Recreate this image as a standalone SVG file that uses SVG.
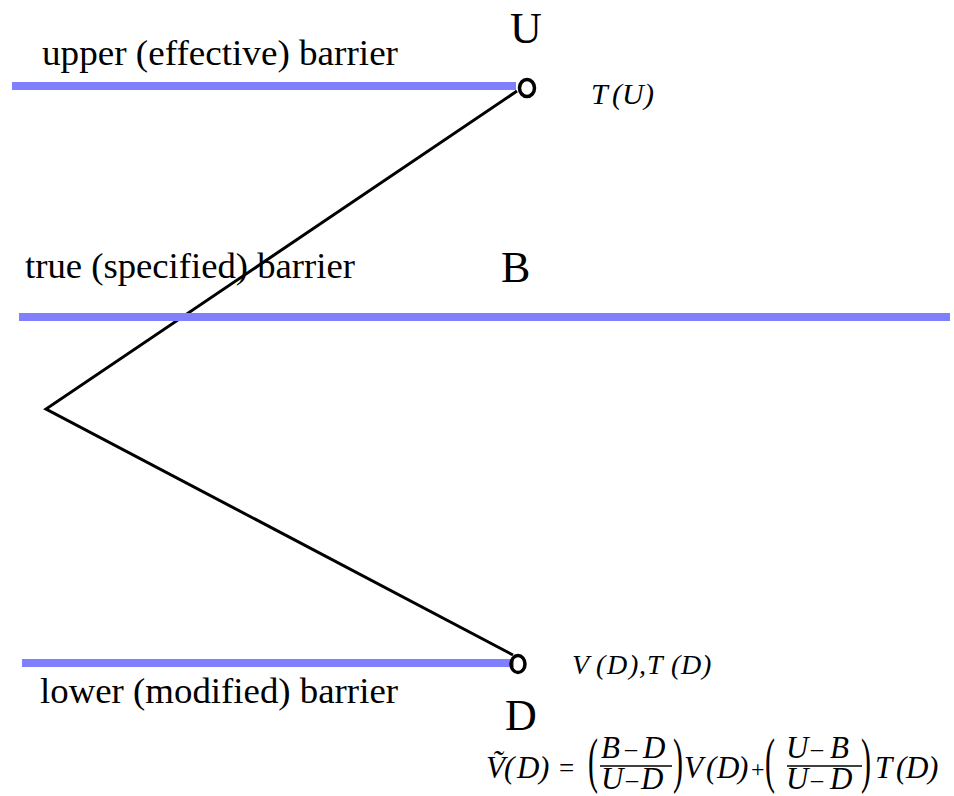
<svg xmlns="http://www.w3.org/2000/svg" width="954" height="796" viewBox="0 0 954 796">
<style>
text{font-family:"Liberation Serif","Times New Roman",Times,serif;fill:#000}
.bar{stroke:#8080ff;stroke-width:8;fill:none}
.lbl{font-size:36px}
.big{font-size:44px}
.m{font-style:italic}
.f{font-size:31px}
.pt{fill:none;stroke:#000;stroke-width:3.5}
.ln{stroke:#000;stroke-width:3;fill:none}
</style>
<rect width="954" height="796" fill="#fff"/>
<g id="connectors">
<polyline class="ln" points="517,91 46,409 513,655"/>
</g>
<g id="upper-barrier">
<line class="bar" x1="12" y1="86" x2="516" y2="86"/>
<text class="lbl" x="42" y="65" textLength="356" lengthAdjust="spacingAndGlyphs">upper (effective) barrier</text>
<text class="big" x="510" y="43">U</text>
<ellipse class="pt" cx="527" cy="88" rx="7.5" ry="8.5"/>
<text class="m" font-size="30" x="591 612 622 644" y="104">T(U)</text>
</g>
<g id="true-barrier">
<line class="bar" x1="19" y1="317" x2="950" y2="317"/>
<text class="lbl" x="25" y="278" textLength="330" lengthAdjust="spacingAndGlyphs">true (specified) barrier</text>
<text class="big" x="501" y="282">B</text>
</g>
<g id="lower-barrier">
<line class="bar" x1="22" y1="663" x2="514" y2="663"/>
<text class="lbl" x="40" y="703" textLength="358" lengthAdjust="spacingAndGlyphs">lower (modified) barrier</text>
<text class="big" x="505" y="730">D</text>
<ellipse class="pt" cx="518" cy="664" rx="7" ry="8.5"/>
<text class="m" font-size="28" x="572 596 607 629 639 647 671 681 702" y="674">V(D),T(D)</text>
</g>
<g id="formula">
<text class="m f" x="486" y="778">Ṽ</text>
<text class="m f" x="504 517 539" y="778">(D)</text>
<text font-size="27" x="559" y="777">=</text>
<text font-size="30" transform="translate(588,781) scale(1,2.05)">(</text>
<text class="m f" x="601" y="758">B</text>
<text font-size="24" x="625" y="756">–</text>
<text class="m f" x="643" y="758">D</text>
<line x1="600" y1="766" x2="672" y2="766" stroke="#000" stroke-width="1.3"/>
<text class="m f" x="601" y="789">U</text>
<text font-size="24" x="626" y="787">–</text>
<text class="m f" x="641" y="789">D</text>
<text font-size="30" transform="translate(673,781) scale(1,2.05)">)</text>
<text class="m f" x="684 706 717 738" y="778">V(D)</text>
<text font-size="24" x="751" y="777">+</text>
<text font-size="30" transform="translate(765,781) scale(1,2.05)">(</text>
<text class="m f" x="786" y="758">U</text>
<text font-size="24" x="811" y="756">–</text>
<text class="m f" x="830" y="758">B</text>
<line x1="787" y1="766" x2="862" y2="766" stroke="#000" stroke-width="1.3"/>
<text class="m f" x="786" y="789">U</text>
<text font-size="24" x="811" y="787">–</text>
<text class="m f" x="830" y="789">D</text>
<text font-size="30" transform="translate(861,781) scale(1,2.05)">)</text>
<text class="m f" x="875 896 906 928" y="778">T(D)</text>
</g>
</svg>
